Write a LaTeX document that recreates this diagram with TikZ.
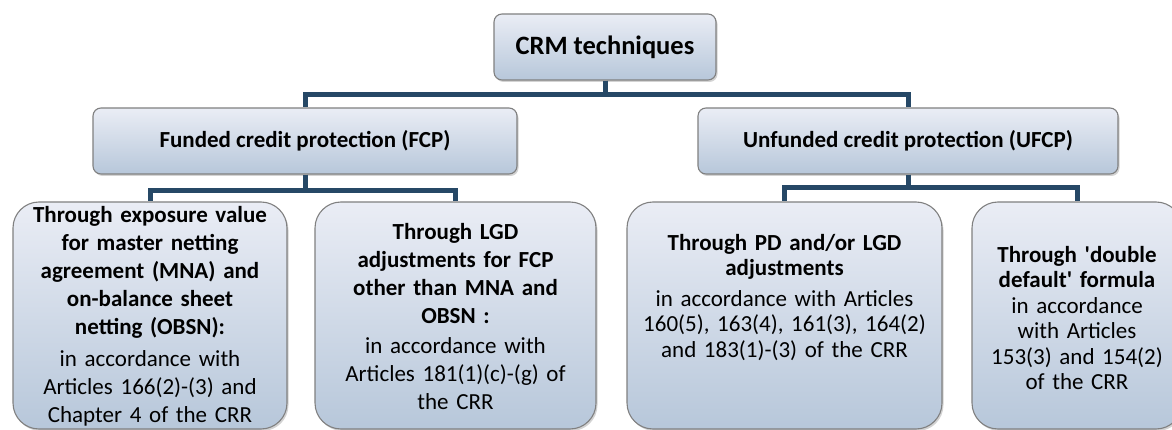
\documentclass[tikz,border=0pt]{standalone}
\usepackage{fontspec}
\setmainfont{Carlito}
\usepackage{tikz}
\usetikzlibrary{shadows}
\definecolor{linkblue}{RGB}{38,72,102}
\definecolor{boxtop}{RGB}{234,237,245}
\definecolor{boxbot}{RGB}{183,199,218}
\definecolor{boxline}{RGB}{128,128,128}

\begin{document}
\begin{tikzpicture}[x=1pt,y=-1pt]
\tikzstyle{every node}+=[inner sep=0pt]
\tikzstyle{box}=[draw=boxline, line width=1.1pt, top color=boxtop, bottom color=boxbot,
  drop shadow={opacity=0.35, shadow xshift=1.5pt, shadow yshift=-2pt}]
\tikzstyle{head}=[box, rounded corners=8pt, minimum height=66pt, font=\fontsize{23}{28}\selectfont\bfseries]
\tikzstyle{leaf}=[box, rounded corners=26pt, minimum height=227pt]
\tikzstyle{leaftext}=[anchor=north, align=center, font=\fontsize{23}{28}\selectfont]
\tikzstyle{leaftight}=[leaftext, font=\fontsize{23}{25.5}\selectfont]
\tikzstyle{link}=[draw=linkblue, line width=5pt]
\clip (0,0) rectangle (1172,430);
\node[head, minimum width=222pt, font=\fontsize{26.5}{32}\selectfont\bfseries] (root) at (605,47) {CRM techniques};
\node[head, minimum width=424pt] (fcp) at (305,141) {Funded credit protection (FCP)};
\node[head, minimum width=420pt] (ufcp) at (908,141) {Unfunded credit protection (UFCP)};
\node[leaf, minimum width=274pt] (mna) at (150,315.5) {};
\node[leaf, minimum width=281pt] (lgd) at (455.5,315.5) {};
\node[leaf, minimum width=315pt] (pd) at (784.5,315.5) {};
\node[leaf, minimum width=210pt] (dd) at (1077,315.5) {};
\draw[link] (root.south) -- ++(0,14) -| (fcp.north);
\draw[link] (root.south) -- ++(0,14) -| (ufcp.north);
\draw[link] (fcp.south) -- ++(0,16) -| (mna.north);
\draw[link] (fcp.south) -- ++(0,16) -| (lgd.north);
\draw[link] (ufcp.south) -- ++(0,13) -| (pd.north);
\draw[link] (ufcp.south) -- ++(0,13) -| (dd.north);
\node[leaftext, text width=270pt] (mnatext) at (150,206) {{\bfseries Through exposure value\\for master netting\\agreement (MNA) and\\on-balance sheet\\netting (OBSN):}\\[4pt]in accordance with\\Articles 166(2)-(3) and\\Chapter 4 of the CRR};
\node[leaftext, text width=276pt] (lgdtext) at (455.5,223) {{\bfseries Through LGD\\adjustments for FCP\\other than MNA and\\OBSN :}\\[2pt]in accordance with\\Articles 181(1)(c)-(g) of\\the CRR};
\node[leaftight, text width=310pt] (pdtext) at (784.5,234) {{\bfseries Through PD and/or LGD\\adjustments}\\[5pt]in accordance with Articles\\160(5), 163(4), 161(3), 164(2)\\and 183(1)-(3) of the CRR};
\node[leaftight, text width=205pt] (ddtext) at (1077,246) {{\bfseries Through \textquotesingle double\\default\textquotesingle{} formula}\\in accordance\\with Articles\\153(3) and 154(2)\\of the CRR};
\end{tikzpicture}
\end{document}
